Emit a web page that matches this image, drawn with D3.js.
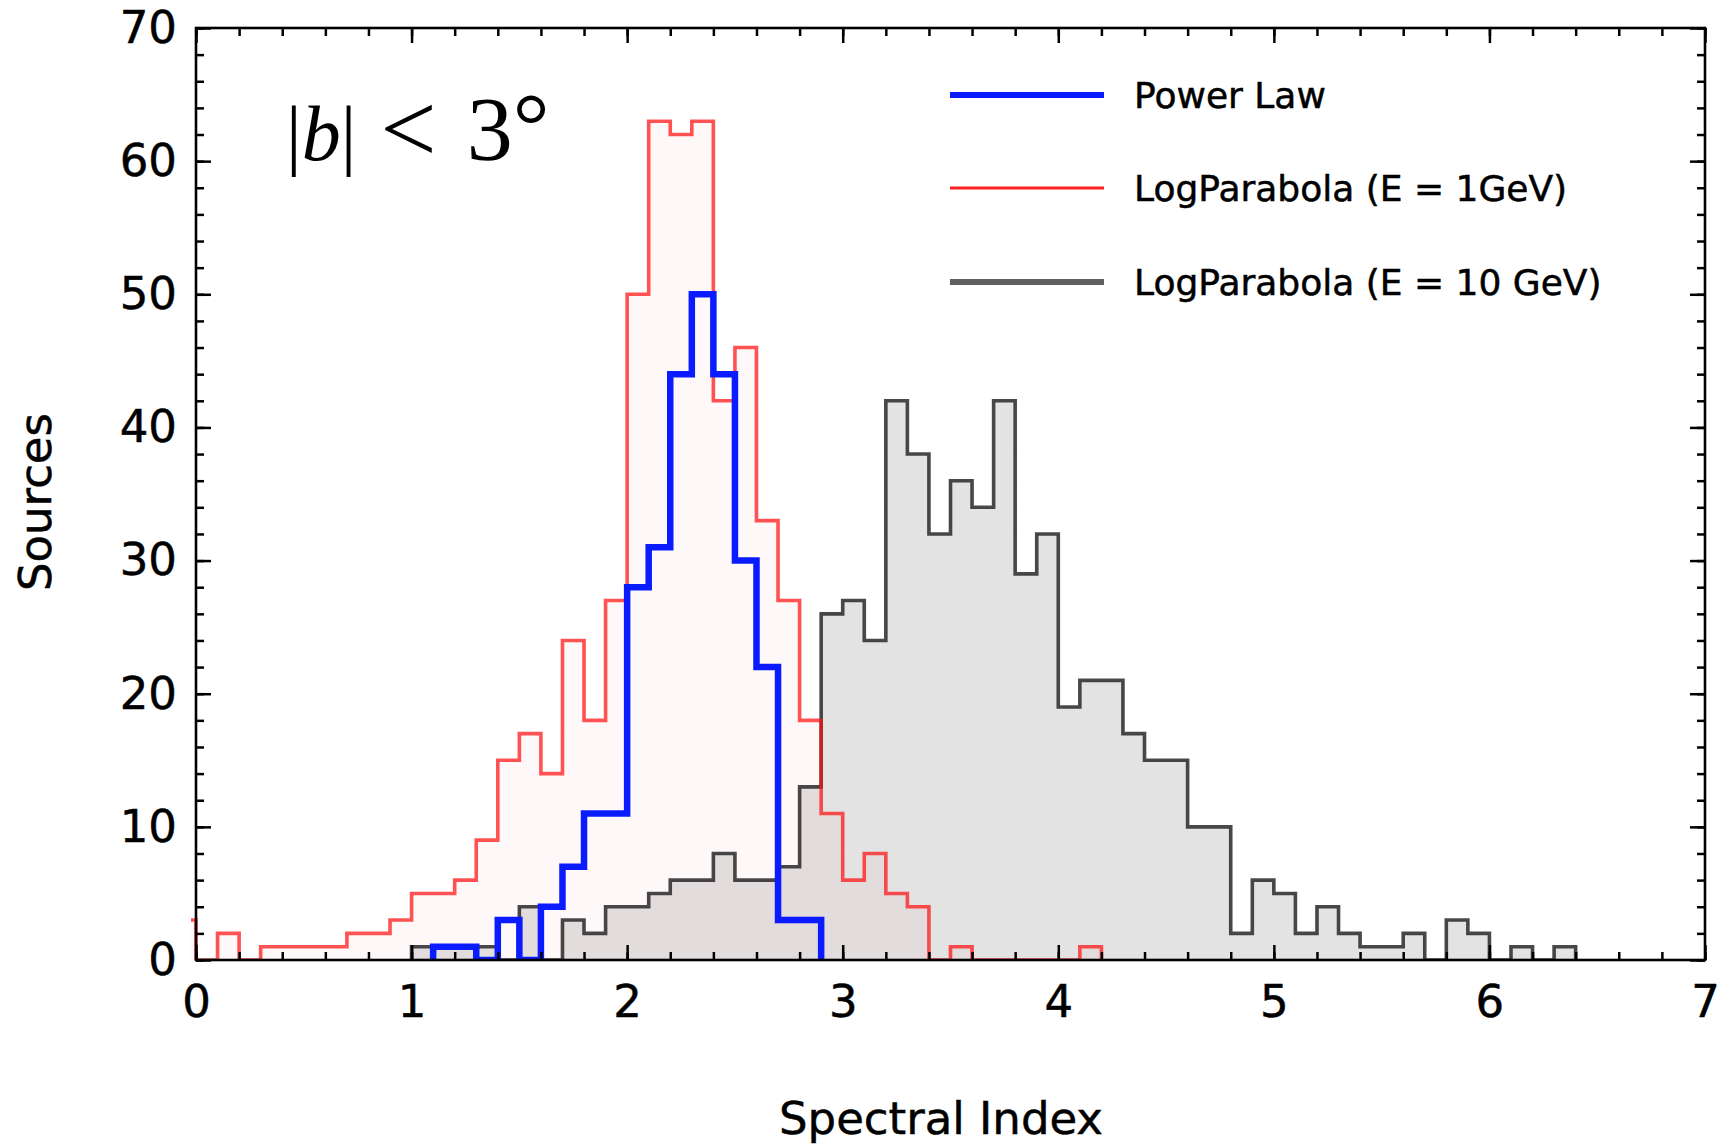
<!DOCTYPE html>
<html>
<head>
<meta charset="utf-8">
<script src="https://cdn.jsdelivr.net/npm/d3@7"></script>
<style>
  body { margin: 0; background: #ffffff; }
  svg text { font-family: "DejaVu Sans", sans-serif; fill: #000; }
  svg text.sans { stroke: #000; stroke-width: 0.5px; }
</style>
</head>
<body>
<svg id="chart" width="1730" height="1144"></svg>
<script>
// Histogram bin width (spectral index units)
const binWidth = 0.1;

// Power-law fits: counts per bin, first bin starting at powerLawStart
const powerLawStart = 1.1;
const powerLaw = [1, 1, 0, 3, 0, 4, 7, 11, 11, 28, 31, 44, 50, 44, 30, 22, 3, 3];

// LogParabola index at 1 GeV
const logPar1Start = -0.1;
const logPar1 = [3, 0, 2, 0, 1, 1, 1, 1, 2, 2, 3, 5, 5, 6, 9, 15, 17, 14, 24, 18, 27,
                 50, 63, 62, 63, 42, 46, 33, 27, 18, 11, 6, 8, 5, 4, 0, 1, 0, 0, 0, 0, 0, 1];

// LogParabola index at 10 GeV
const logPar10Start = 1.0;
const logPar10 = [1, 1, 1, 1, 0, 4, 0, 3, 2, 4, 4, 5, 6, 6, 8, 6, 6, 7, 13, 26,
                  27, 24, 42, 38, 32, 36, 34, 42, 29, 32, 19, 21, 21, 17, 15, 15, 10, 10, 2, 6,
                  5, 2, 4, 2, 1, 1, 2, 0, 3, 2, 0, 1, 0, 1];

// Axis ticks
const xTicks = [0, 1, 2, 3, 4, 5, 6, 7];
const xMinorTicks = d3.range(0, 71, 2).map(v => v / 10);
const yTicks = [0, 10, 20, 30, 40, 50, 60, 70];
const yMinorTicks = d3.range(0, 71, 2);

const legendLabels = ["Power Law", "LogParabola (E = 1GeV)", "LogParabola (E = 10 GeV)"];

// ---- layout ----
const svg = d3.select("#chart");
const plot = { left: 196, right: 1705, top: 28, bottom: 960 };

const x = d3.scaleLinear().domain([0, 7]).range([plot.left, plot.right]);
const y = d3.scaleLinear().domain([0, 70]).range([plot.bottom, plot.top]);

svg.append("defs").append("clipPath").attr("id", "plotClip")
  .append("rect")
  .attr("x", plot.left - 5).attr("y", plot.top)
  .attr("width", plot.right - plot.left + 5).attr("height", plot.bottom - plot.top);

// outline points of a step histogram, closed to the baseline at both ends
function stepPoints(start, counts) {
  const s10 = Math.round(start / binWidth);
  const pts = [[start, 0]];
  counts.forEach((c, i) => {
    pts.push([(s10 + i) * binWidth, c], [(s10 + i + 1) * binWidth, c]);
  });
  pts.push([(s10 + counts.length) * binWidth, 0]);
  return pts;
}

const line = d3.line().x(d => x(d[0])).y(d => y(d[1]));
const area = d3.area().x(d => x(d[0])).y0(y(0)).y1(d => y(d[1]));

const g = svg.append("g").attr("clip-path", "url(#plotClip)");

const ptsPL = stepPoints(powerLawStart, powerLaw);
const pts1 = stepPoints(logPar1Start, logPar1);
const pts10 = stepPoints(logPar10Start, logPar10);

// fills
g.append("path").attr("d", area(pts1)).attr("fill", "rgba(255,0,40,0.028)");
g.append("path").attr("d", area(pts10)).attr("fill", "rgba(0,0,0,0.11)");

// outlines
g.append("path").attr("d", line(pts10))
  .attr("fill", "none").attr("stroke", "#1c1c1c").attr("stroke-opacity", 0.8)
  .attr("stroke-width", 3.6).attr("stroke-linejoin", "miter");
g.append("path").attr("d", line(pts1))
  .attr("fill", "none").attr("stroke", "#ff1010").attr("stroke-opacity", 0.72)
  .attr("stroke-width", 3.6).attr("stroke-linejoin", "miter");
g.append("path").attr("d", line(ptsPL))
  .attr("fill", "none").attr("stroke", "#0a1cff")
  .attr("stroke-width", 6.5).attr("stroke-linejoin", "miter");

// ---- axes (ticks point inward) ----
const majorLen = 15, minorLen = 8;

function styleAxis(sel) {
  sel.select(".domain").remove();
  sel.selectAll(".tick line").attr("stroke", "#000").attr("stroke-width", 2.5);
  sel.selectAll(".tick text").attr("class", "sans").style("font-size", "45px").attr("fill", "#000");
}

// bottom
svg.append("g").attr("transform", `translate(0,${plot.bottom})`)
  .call(d3.axisBottom(x).tickValues(xMinorTicks).tickSize(-minorLen).tickFormat(""))
  .call(styleAxis);
svg.append("g").attr("transform", `translate(0,${plot.bottom})`)
  .call(d3.axisBottom(x).tickValues(xTicks).tickSize(-majorLen).tickPadding(25).tickFormat(d3.format("d")))
  .call(styleAxis);
// top
svg.append("g").attr("transform", `translate(0,${plot.top})`)
  .call(d3.axisTop(x).tickValues(xMinorTicks).tickSize(-minorLen).tickFormat(""))
  .call(styleAxis);
svg.append("g").attr("transform", `translate(0,${plot.top})`)
  .call(d3.axisTop(x).tickValues(xTicks).tickSize(-majorLen).tickFormat(""))
  .call(styleAxis);
// left
svg.append("g").attr("transform", `translate(${plot.left},0)`)
  .call(d3.axisLeft(y).tickValues(yMinorTicks).tickSize(-minorLen).tickFormat(""))
  .call(styleAxis);
svg.append("g").attr("transform", `translate(${plot.left},0)`)
  .call(d3.axisLeft(y).tickValues(yTicks).tickSize(-majorLen).tickPadding(19).tickFormat(d3.format("d")))
  .call(styleAxis);
// right
svg.append("g").attr("transform", `translate(${plot.right},0)`)
  .call(d3.axisRight(y).tickValues(yMinorTicks).tickSize(-minorLen).tickFormat(""))
  .call(styleAxis);
svg.append("g").attr("transform", `translate(${plot.right},0)`)
  .call(d3.axisRight(y).tickValues(yTicks).tickSize(-majorLen).tickFormat(""))
  .call(styleAxis);

// frame
svg.append("rect")
  .attr("x", plot.left).attr("y", plot.top)
  .attr("width", plot.right - plot.left).attr("height", plot.bottom - plot.top)
  .attr("fill", "none").attr("stroke", "#000").attr("stroke-width", 2.6);

// axis titles
svg.append("text").attr("class", "sans")
  .attr("x", 941).attr("y", 1134)
  .attr("text-anchor", "middle")
  .style("font-size", "45px")
  .text("Spectral Index");

svg.append("text").attr("class", "sans")
  .attr("transform", "translate(51,502) rotate(-90)")
  .attr("text-anchor", "middle")
  .style("font-size", "45px")
  .text("Sources");

// latitude cut annotation
const ann = svg.append("text")
  .attr("x", 286).attr("y", 160)
  .style("font-family", "'Liberation Serif', 'DejaVu Serif', serif")
  .style("font-size", "78px");
ann.append("tspan").text("|");
ann.append("tspan").style("font-style", "italic").text("b");
ann.append("tspan").text("|");
ann.append("tspan").attr("dx", 24).attr("dy", 2).style("font-size", "100px").text("<");
ann.append("tspan").attr("dx", 30).attr("dy", -2).style("font-size", "92px").text("3");
ann.append("tspan").attr("dy", -4).style("font-size", "92px").text("°");

// legend
const legendColors = ["#0a1cff", "#ff2020", "#606060"];
const legendWidths = [6, 3.2, 6];
const legendY = [95, 188, 282];
const leg = svg.append("g");
legendLabels.forEach((lab, i) => {
  leg.append("line")
    .attr("x1", 950).attr("x2", 1104)
    .attr("y1", legendY[i]).attr("y2", legendY[i])
    .attr("stroke", legendColors[i]).attr("stroke-width", legendWidths[i]);
  leg.append("text").attr("class", "sans")
    .attr("x", 1134).attr("y", legendY[i]).attr("dy", "0.36em")
    .style("font-size", "36px")
    .text(lab);
});
</script>
</body>
</html>
